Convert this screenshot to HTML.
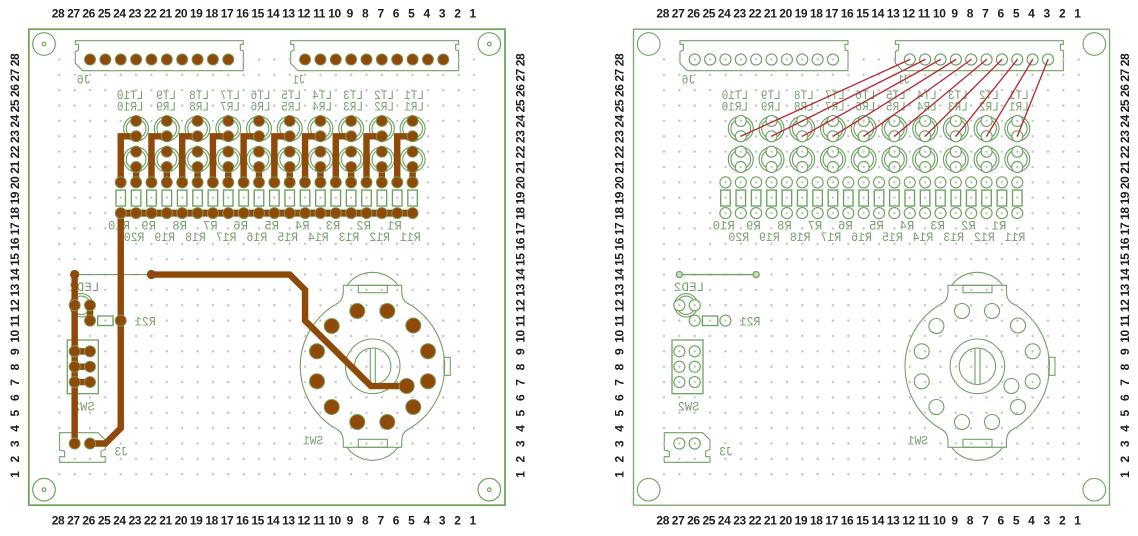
<!DOCTYPE html>
<html lang="en"><head><meta charset="utf-8"><title>PCB layout</title>
<style>
html,body{margin:0;padding:0;background:#fff}
svg{display:block}
.n{font:bold 12px "Liberation Sans",sans-serif;fill:#1e1e1e;text-anchor:middle;letter-spacing:-.4px}
.m{font:12.5px "Liberation Mono",monospace;fill:#74a06a}
</style></head><body>
<svg xmlns="http://www.w3.org/2000/svg" width="1138" height="536" viewBox="0 0 1138 536">
<defs>
<pattern id="pt" patternUnits="userSpaceOnUse" x="51.62" y="51.82" width="15.36" height="15.36"><circle cx="7.68" cy="7.68" r="1.2" fill="#c2c2c2"/></pattern>
<rect id="dots" x="51.62" y="51.82" width="430.08" height="430.08" fill="url(#pt)"/>

<g id="hn" class="nn">
<text class="n" x="58">28</text><text class="n" x="73.4">27</text><text class="n" x="88.7">26</text><text class="n" x="104.1">25</text><text class="n" x="119.4">24</text><text class="n" x="134.8">23</text><text class="n" x="150.2">22</text><text class="n" x="165.5">21</text><text class="n" x="180.9">20</text><text class="n" x="196.2">19</text><text class="n" x="211.6">18</text><text class="n" x="227">17</text><text class="n" x="242.3">16</text><text class="n" x="257.7">15</text><text class="n" x="273">14</text><text class="n" x="288.4">13</text><text class="n" x="303.8">12</text><text class="n" x="319.1">11</text><text class="n" x="334.5">10</text><text class="n" x="349.8">9</text><text class="n" x="365.2">8</text><text class="n" x="380.6">7</text><text class="n" x="395.9">6</text><text class="n" x="411.3">5</text><text class="n" x="426.6">4</text><text class="n" x="442">3</text><text class="n" x="457.4">2</text><text class="n" x="472.7">1</text>
</g>
<g id="vn">
<text class="n" x="-60">28</text><text class="n" x="-75.4">27</text><text class="n" x="-90.7">26</text><text class="n" x="-106.1">25</text><text class="n" x="-121.4">24</text><text class="n" x="-136.8">23</text><text class="n" x="-152.2">22</text><text class="n" x="-167.5">21</text><text class="n" x="-182.9">20</text><text class="n" x="-198.2">19</text><text class="n" x="-213.6">18</text><text class="n" x="-229">17</text><text class="n" x="-244.3">16</text><text class="n" x="-259.7">15</text><text class="n" x="-275">14</text><text class="n" x="-290.4">13</text><text class="n" x="-305.8">12</text><text class="n" x="-321.1">11</text><text class="n" x="-336.5">10</text><text class="n" x="-351.8">9</text><text class="n" x="-367.2">8</text><text class="n" x="-382.6">7</text><text class="n" x="-397.9">6</text><text class="n" x="-413.3">5</text><text class="n" x="-428.6">4</text><text class="n" x="-444">3</text><text class="n" x="-459.4">2</text><text class="n" x="-474.7">1</text>
</g>
<g id="nums">
<use href="#hn" y="17.6"/><use href="#hn" y="524.3"/>
<use href="#vn" transform="translate(19 0) rotate(-90)"/>
<use href="#vn" transform="translate(524.3 0) rotate(-90)"/>
</g>

<path id="con" d="M75.3 40.7V44.3H78.6V50L75.3 51.7V63.3L82.6 70.7H243.3V50.7L240.3 50V44.3H243.3V40.7Z"/>
<g id="ledc"><circle cx="0" cy="4.5" r=".81"/><circle cx="0" cy="4.5" r=".64"/><circle cx="0" cy="6.5" r=".81"/><circle cx="0" cy="6.5" r=".64"/></g>
<rect id="res" x="-.31" y="8.5" width=".62" height="1.04"/>

<g id="silk">
<g fill="none" stroke="#6fa262" stroke-width="1.1">
<use href="#con"/><use href="#con" x="215.36"/>
<path d="M59.6 432.7H98L105.3 440V449.3L101 451.3V456.7H105.3V462.3H59.6V456.7H64.6V451.3L59.6 450Z"/>
<path d="M343.3 285.3H401.7V292Q402 300 407 303A72.3 72.3 0 0 1 407 430Q402 433 401.7 441V447.3H343.3V441Q343 433 338 430A72.3 72.3 0 0 1 338 303Q343 300 343.3 292Z"/>
<path d="M347 285.3A31.5 31.5 0 0 1 398 285.3M347 447.3A31.5 31.5 0 0 0 398 447.3"/>
<rect x="358.3" y="285.3" width="29" height="7.4"/><rect x="358.3" y="439.3" width="29" height="8"/><rect x="444" y="357.3" width="6.3" height="18"/>
<circle cx="372.7" cy="366.3" r="27.3"/><circle cx="372.7" cy="366.3" r="18.2"/>
<path d="M370.3 348.7V384.3M375.3 348.7V384.3"/>
</g>
<rect x="67.3" y="340" width="31" height="53.7" fill="none" stroke="#6fa262" stroke-width="1.3"/>
<g transform="translate(59.3 59.5) scale(15.36)" fill="none" stroke="#6fa262" stroke-width=".075">
<use href="#ledc" x="5"/><use href="#ledc" x="7"/><use href="#ledc" x="9"/><use href="#ledc" x="11"/><use href="#ledc" x="13"/><use href="#ledc" x="15"/><use href="#ledc" x="17"/><use href="#ledc" x="19"/><use href="#ledc" x="21"/><use href="#ledc" x="23"/>
<g stroke-width=".09">
<use href="#res" x="4"/><use href="#res" x="5"/><use href="#res" x="6"/><use href="#res" x="7"/><use href="#res" x="8"/><use href="#res" x="9"/><use href="#res" x="10"/><use href="#res" x="11"/><use href="#res" x="12"/><use href="#res" x="13"/><use href="#res" x="14"/><use href="#res" x="15"/><use href="#res" x="16"/><use href="#res" x="17"/><use href="#res" x="18"/><use href="#res" x="19"/><use href="#res" x="20"/><use href="#res" x="21"/><use href="#res" x="22"/><use href="#res" x="23"/>
<rect x="2.5" y="16.7" width="1" height=".62"/>
</g>
<path d="M2.1 15.62A.76 .76 0 1 0 2.1 16.38M1.95 15.7A.6 .6 0 1 0 1.95 16.3"/>
</g>
<text class="m" transform="translate(424 98.9) scale(-.88 1)">LT1</text><text class="m" transform="translate(394 98.9) scale(-.88 1)">LT2</text><text class="m" transform="translate(363 98.9) scale(-.88 1)">LT3</text><text class="m" transform="translate(332 98.9) scale(-.88 1)">LT4</text><text class="m" transform="translate(301 98.9) scale(-.88 1)">LT5</text><text class="m" transform="translate(270.5 98.9) scale(-.88 1)">LT6</text><text class="m" transform="translate(240 98.9) scale(-.88 1)">LT7</text><text class="m" transform="translate(209 98.9) scale(-.88 1)">LT8</text><text class="m" transform="translate(176 98.9) scale(-.88 1)">LT9</text><text class="m" transform="translate(143.3 98.9) scale(-.88 1)">LT10</text>
<text class="m" transform="translate(424 110.5) scale(-.88 1)">LR1</text><text class="m" transform="translate(394 110.5) scale(-.88 1)">LR2</text><text class="m" transform="translate(363 110.5) scale(-.88 1)">LR3</text><text class="m" transform="translate(332 110.5) scale(-.88 1)">LR4</text><text class="m" transform="translate(301 110.5) scale(-.88 1)">LR5</text><text class="m" transform="translate(270.5 110.5) scale(-.88 1)">LR6</text><text class="m" transform="translate(240 110.5) scale(-.88 1)">LR7</text><text class="m" transform="translate(209 110.5) scale(-.88 1)">LR8</text><text class="m" transform="translate(176 110.5) scale(-.88 1)">LR9</text><text class="m" transform="translate(143.3 110.5) scale(-.88 1)">LR10</text>
<text class="m" transform="translate(401.7 229.5) scale(-.98 1)">R1</text><text class="m" transform="translate(371 229.5) scale(-.98 1)">R2</text><text class="m" transform="translate(340.3 229.5) scale(-.98 1)">R3</text><text class="m" transform="translate(309.6 229.5) scale(-.98 1)">R4</text><text class="m" transform="translate(279 229.5) scale(-.98 1)">R5</text><text class="m" transform="translate(248 229.5) scale(-.98 1)">R6</text><text class="m" transform="translate(217.6 229.5) scale(-.98 1)">R7</text><text class="m" transform="translate(187 229.5) scale(-.98 1)">R8</text><text class="m" transform="translate(156 229.5) scale(-.98 1)">R9</text><text class="m" transform="translate(130 229.5) scale(-.98 1)">R10</text>
<text class="m" transform="translate(420.7 241) scale(-.92 1)">R11</text><text class="m" transform="translate(390 241) scale(-.92 1)">R12</text><text class="m" transform="translate(359.3 241) scale(-.92 1)">R13</text><text class="m" transform="translate(328.6 241) scale(-.92 1)">R14</text><text class="m" transform="translate(298 241) scale(-.92 1)">R15</text><text class="m" transform="translate(267.2 241) scale(-.92 1)">R16</text><text class="m" transform="translate(236.5 241) scale(-.92 1)">R17</text><text class="m" transform="translate(205.8 241) scale(-.92 1)">R18</text><text class="m" transform="translate(175 241) scale(-.92 1)">R19</text><text class="m" transform="translate(144.4 241) scale(-.92 1)">R20</text>
<text class="m" transform="translate(90.7 83.5) scale(-.92 1)">J6</text><text class="m" transform="translate(305 83.5) scale(-.8 1)">J1</text>
<text class="m" transform="translate(99.3 291) scale(-1 1)">LED2</text>
<text class="m" transform="translate(155.7 325.5) scale(-.92 1)">R21</text>
<text class="m" transform="translate(94.6 410.5) scale(-.96 1)">SW2</text>
<text class="m" transform="translate(128 455.5) scale(-.9 1)">J3</text>
<text class="m" transform="translate(323.3 444.5) scale(-.9 1)">SW1</text>
</g>

<g id="ledp"><circle cx="0" cy="4" r=".36"/><circle cx="0" cy="5" r=".36"/><circle cx="0" cy="6" r=".36"/><circle cx="0" cy="7" r=".36"/></g>
<g id="rp"><circle cx="0" cy="8" r=".36"/><circle cx="0" cy="10" r=".36"/></g>
<circle id="cp" cy="0" r=".36"/>
<g id="pads">
<use href="#cp" x="2"/><use href="#cp" x="3"/><use href="#cp" x="4"/><use href="#cp" x="5"/><use href="#cp" x="6"/><use href="#cp" x="7"/><use href="#cp" x="8"/><use href="#cp" x="9"/><use href="#cp" x="10"/><use href="#cp" x="11"/>
<use href="#cp" x="16"/><use href="#cp" x="17"/><use href="#cp" x="18"/><use href="#cp" x="19"/><use href="#cp" x="20"/><use href="#cp" x="21"/><use href="#cp" x="22"/><use href="#cp" x="23"/><use href="#cp" x="24"/><use href="#cp" x="25"/>
<use href="#ledp" x="5"/><use href="#ledp" x="7"/><use href="#ledp" x="9"/><use href="#ledp" x="11"/><use href="#ledp" x="13"/><use href="#ledp" x="15"/><use href="#ledp" x="17"/><use href="#ledp" x="19"/><use href="#ledp" x="21"/><use href="#ledp" x="23"/>
<use href="#rp" x="4"/><use href="#rp" x="5"/><use href="#rp" x="6"/><use href="#rp" x="7"/><use href="#rp" x="8"/><use href="#rp" x="9"/><use href="#rp" x="10"/><use href="#rp" x="11"/><use href="#rp" x="12"/><use href="#rp" x="13"/><use href="#rp" x="14"/><use href="#rp" x="15"/><use href="#rp" x="16"/><use href="#rp" x="17"/><use href="#rp" x="18"/><use href="#rp" x="19"/><use href="#rp" x="20"/><use href="#rp" x="21"/><use href="#rp" x="22"/><use href="#rp" x="23"/>
<circle cx="1" cy="16" r=".36"/><circle cx="2" cy="16" r=".36"/><circle cx="2" cy="17" r=".36"/><circle cx="4" cy="17" r=".36"/>
<circle cx="1" cy="19" r=".36"/><circle cx="2" cy="19" r=".36"/><circle cx="1" cy="20" r=".36"/><circle cx="2" cy="20" r=".36"/><circle cx="1" cy="21" r=".36"/><circle cx="2" cy="21" r=".36"/>
<circle cx="1" cy="25" r=".36"/><circle cx="2" cy="25" r=".36"/>
</g>
<g id="swp">
<circle cx="357.3" cy="311" r="7.5"/><circle cx="387.3" cy="311" r="7.5"/><circle cx="331.7" cy="326" r="7.5"/><circle cx="413.3" cy="325.5" r="7.5"/><circle cx="317" cy="351.3" r="7.5"/><circle cx="428" cy="351.3" r="7.5"/><circle cx="317" cy="381.3" r="7.5"/><circle cx="428" cy="381.3" r="7.5"/><circle cx="331.7" cy="407" r="7.5"/><circle cx="413.3" cy="407" r="7.5"/><circle cx="357.3" cy="422" r="7.5"/><circle cx="387.3" cy="422" r="7.5"/><circle cx="406.7" cy="386" r="7.5"/>
</g>
</defs>

<rect width="1138" height="536" fill="#fff"/>

<!-- left board: copper view -->
<use href="#nums"/>
<rect x="28.8" y="29.2" width="476.2" height="476" fill="#fff" stroke="#6fa35f" stroke-width="1.8"/>
<g fill="none" stroke="#6fa35f" stroke-width="1.2">
<circle cx="44" cy="44" r="11.3"/><circle cx="489.3" cy="44" r="11.3"/><circle cx="44" cy="489.7" r="11.3"/><circle cx="489.3" cy="489.7" r="11.3"/>
<circle cx="44" cy="44" r="1.8"/><circle cx="489.3" cy="44" r="1.8"/><circle cx="44" cy="489.7" r="1.8"/><circle cx="489.3" cy="489.7" r="1.8"/>
</g>
<use href="#silk"/>
<use href="#dots"/>
<g transform="translate(59.3 59.5) scale(15.36)">
<path d="M1 14H6" stroke="#6fa262" stroke-width=".07" fill="none"/>
<path fill="none" stroke="#8f4a0a" stroke-width=".42" d="M4 8V5H5M6 8V5H7M8 8V5H9M10 8V5H11M12 8V5H13M14 8V5H15M16 8V5H17M18 8V5H19M20 8V5H21M22 8V5H23M5 7V8M7 7V8M9 7V8M11 7V8M13 7V8M15 7V8M17 7V8M19 7V8M21 7V8M23 7V8M4 10V24L3 25H2M1 14V25M1 19H2M1 20H2M1 21H2M2 16V17M6 14H15L16 15V17L20.29 21.26H22.62"/>
<path fill="none" stroke="#8f4a0a" stroke-width=".46" d="M4 10H23"/>
<g fill="#8f4a0a" stroke="#7d9a58" stroke-width=".06"><use href="#pads"/></g>
<circle cx="1" cy="14" r=".3" fill="#8f4a0a"/><circle cx="6" cy="14" r=".3" fill="#8f4a0a"/>
</g>
<g fill="#8f4a0a" stroke="#7d9a58" stroke-width="1"><use href="#swp"/></g>

<!-- right board: component view -->
<g transform="translate(604.7 0)">
<use href="#nums"/>
<rect x="28.8" y="29.2" width="476" height="476" fill="#fff" stroke="#7dae70" stroke-width="1.4"/>
<g fill="none" stroke="#6fa35f" stroke-width="1.1">
<circle cx="44" cy="44" r="11.3"/><circle cx="489.6" cy="44" r="11.3"/><circle cx="44" cy="489.7" r="11.3"/><circle cx="489.6" cy="489.7" r="11.3"/>
</g>
<use href="#silk"/>
<g transform="translate(59.3 59.5) scale(15.36)">
<g fill="#fff" stroke="#6fa262" stroke-width=".075"><use href="#pads"/></g>
</g>
<g fill="#fff" stroke="#6fa262" stroke-width="1.1"><use href="#swp"/></g>
<use href="#dots"/>
<g transform="translate(59.3 59.5) scale(15.36)">
<path d="M1 14H6" stroke="#6fa262" stroke-width=".09" fill="none"/>
<circle cx="1" cy="14" r=".2" fill="#c9dcc2" stroke="#6fa262" stroke-width=".08"/><circle cx="6" cy="14" r=".2" fill="#c9dcc2" stroke="#6fa262" stroke-width=".08"/>
<path fill="none" stroke="#b5303c" stroke-width=".09" d="M16 0L5 5M17 0L7 5M18 0L9 5M19 0L11 5M20 0L13 5M21 0L15 5M22 0L17 5M23 0L19 5M24 0L21 5M25 0L23 5"/>
</g>
</g>
</svg>
</body></html>
